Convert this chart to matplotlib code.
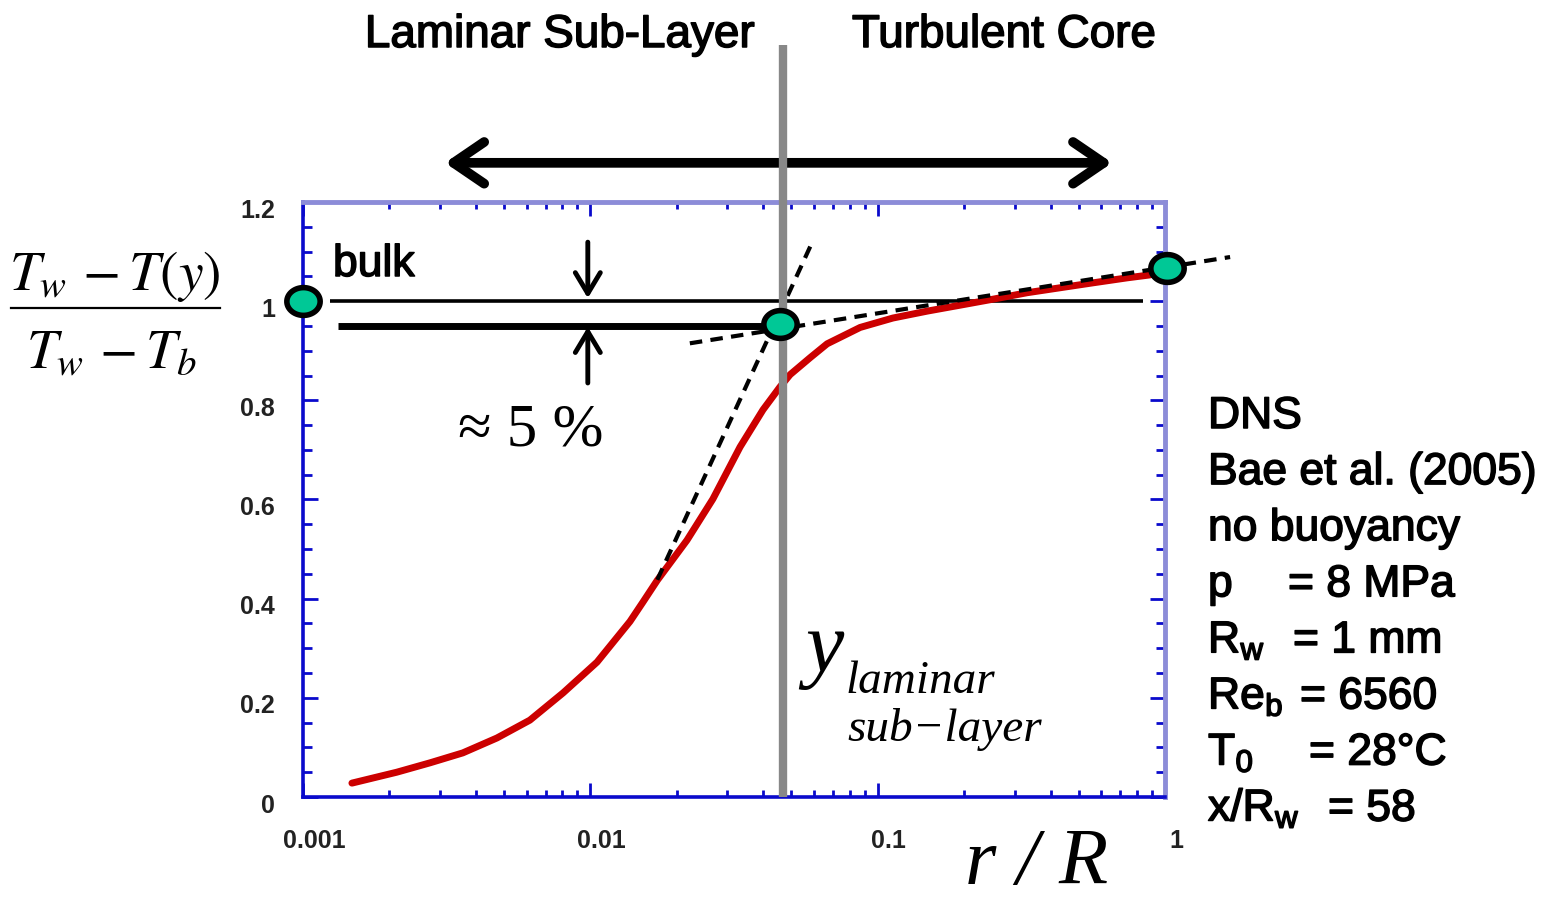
import numpy as np
import matplotlib
matplotlib.use("Agg")
import matplotlib.pyplot as plt
import matplotlib.patheffects as pe
from matplotlib.path import Path
from matplotlib.lines import Line2D
from matplotlib.transforms import ScaledTranslation
from matplotlib.font_manager import FontProperties

# ---------------- data ----------------
r_over_R = [0.00148, 0.00212, 0.00277, 0.0036, 0.00473, 0.00616, 0.00804, 0.01055,
            0.01374, 0.01524, 0.0171, 0.0217, 0.0267, 0.0332, 0.0399, 0.0457,
            0.0496, 0.0582, 0.0667, 0.0869, 0.113, 0.149, 0.194, 0.252,
            0.331, 0.431, 0.562, 0.738, 0.888]
theta = [0.028, 0.050, 0.069, 0.089, 0.119, 0.155, 0.210, 0.272,
         0.354, 0.393, 0.437, 0.518, 0.601, 0.706, 0.781, 0.827,
         0.852, 0.886, 0.914, 0.947, 0.966, 0.980, 0.992, 1.004,
         1.017, 1.027, 1.037, 1.047, 1.053]

marker_x = [0.001, 0.0457, 1.02]
marker_y = [1.0, 0.953, 1.067]

steep_x = [0.0171, 0.0592]
steep_y = [0.438, 1.119]
shallow_x = [0.0222, 1.685]
shallow_y = [0.915, 1.089]

bulk_x = [0.00124, 0.84]
bulk_y = [1.0, 1.0]
near_x = [0.00132, 0.0457]
near_y = [0.950, 0.950]

lam_x = 0.0469           # laminar sub-layer edge
lam_top = 1.517
arrow_x = 0.0098
arrow_down = (1.119, 1.006)
arrow_up = (0.835, 0.948)
span_x = (0.00312, 0.655)
span_y = 1.279

xticks = [0.001, 0.01, 0.1, 1]
xticklabels = ["0.001", "0.01", "0.1", "1"]
yticks = [0, 0.2, 0.4, 0.6, 0.8, 1, 1.2]
yticklabels = ["0", "0.2", "0.4", "0.6", "0.8", "1", "1.2"]

info_labels = ["DNS", "Bae et al. (2005)", "no buoyancy", "p",
               r"R$_\mathregular{w}$", r"Re$_\mathregular{b}$",
               r"T$_\mathregular{0}$", r"x/R$_\mathregular{w}$"]
info_values = [None, None, None, "= 8 MPa", "= 1 mm", "= 6560", "= 28°C", "= 58"]

# ---------------- figure ----------------
W, H = 1562, 905
fig = plt.figure(figsize=(W / 100, H / 100), dpi=100)
fig.patch.set_facecolor("white")

def fx(px):
    return px / W

def fy(py):
    return 1 - py / H

ax = fig.add_axes([fx(303), fy(797), fx(1165) - fx(303), fy(202) - fy(797)])
ax.set_xscale("log")
ax.set_xlim(0.001, 1)
ax.set_ylim(0, 1.2)

blue = "#0a0acc"
lblue = "#8c8cd8"
for s in ["left", "bottom"]:
    ax.spines[s].set_color(blue)
    ax.spines[s].set_linewidth(2.6)
for s in ["top", "right"]:
    ax.spines[s].set_color(lblue)
    ax.spines[s].set_linewidth(3.5)

ax.set_xticks(xticks)
ax.set_xticklabels(xticklabels)
ax.set_xticks([m * 10.0 ** e for e in (-3, -2, -1) for m in range(2, 10)], minor=True)
ax.set_yticks(yticks)
ax.set_yticklabels(yticklabels)
ax.set_yticks(np.arange(0.05, 1.2, 0.05), minor=True)
ax.yaxis.set_minor_formatter(plt.NullFormatter())
ax.xaxis.set_minor_formatter(plt.NullFormatter())

ax.tick_params(axis="both", which="both", direction="in", top=True, right=True,
               color=blue, width=2)
ax.tick_params(axis="x", which="major", length=10, pad=23)
ax.tick_params(axis="x", which="minor", length=5)
ax.tick_params(axis="y", which="major", length=11, pad=20)
ax.tick_params(axis="y", which="minor", length=6.5)

tick_fp = FontProperties(family="Liberation Sans", weight="bold", size=18)
for lab in ax.get_xticklabels():
    lab.set_fontproperties(tick_fp)
    lab.set_color("#222222")
    lab.set_transform(lab.get_transform() + ScaledTranslation(0.11, 0, fig.dpi_scale_trans))
for lab in ax.get_yticklabels():
    lab.set_fontproperties(tick_fp)
    lab.set_color("#222222")
    lab.set_transform(lab.get_transform() + ScaledTranslation(0, -0.06, fig.dpi_scale_trans))

# bulk lines
ax.plot(bulk_x, bulk_y, color="black", lw=2.6, zorder=2, solid_capstyle="butt")
ax.plot(near_x, near_y, color="black", lw=5, zorder=2, solid_capstyle="butt")

# DNS profile
ax.plot(r_over_R, theta, color="#cc0000", lw=5, zorder=3, solid_capstyle="round",
        solid_joinstyle="round")

# tangent lines
ax.plot(steep_x, steep_y, color="black", lw=3, ls=(0, (3, 2)), zorder=4, clip_on=False)
ax.plot(shallow_x, shallow_y, color="black", lw=3, ls=(0, (3, 2)), zorder=4, clip_on=False)

# laminar sub-layer edge
ax.plot([lam_x, lam_x], [0, lam_top], color="#888888", lw=6, zorder=5, clip_on=False,
        solid_capstyle="butt")

# markers (slightly elliptical)
t = np.linspace(0, 2 * np.pi, 60)
ell = Path(np.column_stack([1.2 * np.cos(t), np.sin(t)]), closed=True)
ax.plot(marker_x, marker_y, ls="none", marker=ell, ms=24, mfc="#00c896", mec="black",
        mew=4, zorder=7, clip_on=False)

# small arrows (5 %)
for y0, y1 in (arrow_down, arrow_up):
    ax.annotate("", xy=(arrow_x, y1), xytext=(arrow_x, y0),
                arrowprops=dict(arrowstyle="->, head_length=0.75, head_width=0.45",
                                lw=3.5, color="black", shrinkA=0, shrinkB=0,
                                mutation_scale=20),
                annotation_clip=False, zorder=4)

# big double arrow
ax.annotate("", xy=(span_x[0], span_y), xytext=(span_x[1], span_y),
            arrowprops=dict(arrowstyle="<->, head_length=1.1, head_width=0.75",
                            lw=7, color="black", shrinkA=0, shrinkB=0, mutation_scale=20),
            annotation_clip=False, zorder=4)

# ---------------- texts ----------------
sans = "Liberation Sans"
serif = ["Liberation Serif", "DejaVu Serif"]
heavy = [pe.withStroke(linewidth=1.1, foreground="black")]

fig.text(fx(560), fy(47), "Laminar Sub-Layer", family=sans, size=33, ha="center",
         va="baseline", path_effects=heavy)
fig.text(fx(1004), fy(47), "Turbulent Core", family=sans, size=33, ha="center",
         va="baseline", path_effects=heavy)
fig.text(fx(333), fy(276), "bulk", family=sans, size=32, ha="left", va="baseline",
         path_effects=heavy)
fig.text(fx(531), fy(445), "≈ 5 %", family=serif, size=44, ha="center", va="baseline")

# y label as fraction
fig.text(fx(115), fy(290), r"$T_w\,-T(y)$", math_fontfamily="stix", size=40,
         ha="center", va="baseline")
fig.text(fx(112), fy(368), r"$T_w\,-T_b$", math_fontfamily="stix", size=40,
         ha="center", va="baseline")
fig.add_artist(Line2D([fx(11), fx(220)], [fy(308), fy(308)], color="black", lw=1.6))

# x label
fig.text(fx(1037), fy(884), "r / R", family=serif, style="italic", size=58,
         ha="center", va="baseline")

# y_laminar sub-layer
fig.text(fx(805), fy(671), "y", family=serif, style="italic", size=62, ha="left", va="baseline")
fig.text(fx(845), fy(693), "laminar", family=serif, style="italic", size=34, ha="left",
         va="baseline")
fig.text(fx(847), fy(741), "sub\u2212layer", family=serif, style="italic", size=34,
         ha="left", va="baseline")

# info block
base0 = 428
step = 56.1
val_x = [None, None, None, 1288, 1293, 1300, 1309, 1328]
for i, (lab, val) in enumerate(zip(info_labels, info_values)):
    yb = base0 + i * step
    fig.text(fx(1208), fy(yb), lab, family=sans, size=32, ha="left", va="baseline",
             path_effects=heavy)
    if val is not None:
        fig.text(fx(val_x[i]), fy(yb), val, family=sans, size=32, ha="left",
                 va="baseline", path_effects=heavy)

# lighter ticks on top / right
fig.canvas.draw()
for tk in ax.xaxis.get_major_ticks() + ax.xaxis.get_minor_ticks():
    tk.tick2line.set_color(lblue)
for tk in ax.yaxis.get_major_ticks() + ax.yaxis.get_minor_ticks():
    tk.tick2line.set_color(lblue)

fig.savefig("out.png", dpi=100)
